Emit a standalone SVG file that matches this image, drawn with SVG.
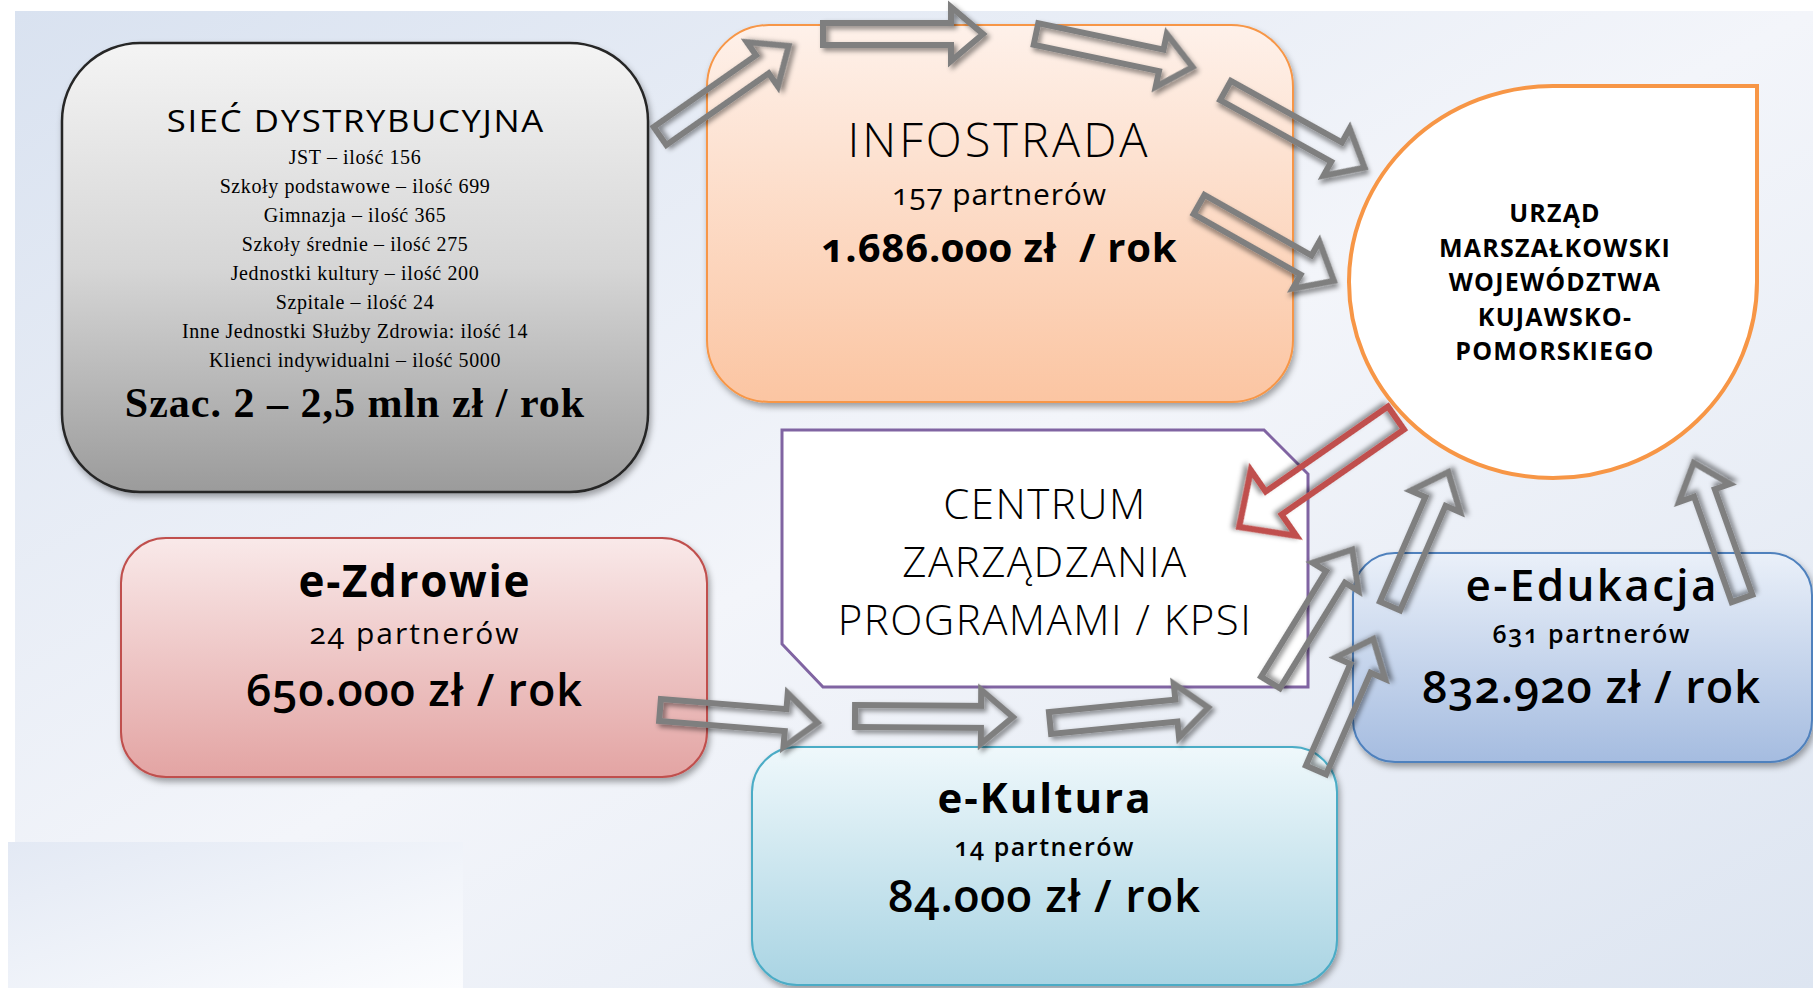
<svg xmlns="http://www.w3.org/2000/svg" width="1813" height="988" viewBox="0 0 1813 988">
<style>
.sans{font-family:"Open Sans","Noto Sans",sans-serif;fill:#000;text-anchor:middle;font-variant-numeric:oldstyle-nums;font-feature-settings:"onum" 1}
.serif{font-family:"Liberation Serif","DejaVu Serif",serif;fill:#000;text-anchor:middle}
.arr{fill:none;stroke:#7f7f7f;stroke-width:6;stroke-linejoin:miter;stroke-miterlimit:10;filter:url(#ash)}
.red{fill:none;stroke:#c0504d;stroke-width:6;stroke-linejoin:miter;stroke-miterlimit:10;filter:url(#ash)}
</style>
<defs>
<linearGradient id="bg" x1="0" y1="0" x2="1" y2="1">
<stop offset="0" stop-color="#d9e2f0"/><stop offset="0.5" stop-color="#f3f5fa"/><stop offset="1" stop-color="#dde5f1"/>
</linearGradient>
<linearGradient id="bg2" x1="0" y1="0" x2="1" y2="1">
<stop offset="0" stop-color="#e3e9f4"/><stop offset="1" stop-color="#fbfcfe"/>
</linearGradient>
<linearGradient id="gGray" x1="0" y1="0" x2="0" y2="1">
<stop offset="0" stop-color="#f4f4f4"/><stop offset="0.5" stop-color="#d6d6d6"/><stop offset="1" stop-color="#9b9b9b"/>
</linearGradient>
<linearGradient id="gOr" x1="0" y1="0" x2="0" y2="1">
<stop offset="0" stop-color="#fef1ea"/><stop offset="1" stop-color="#fbc5a2"/>
</linearGradient>
<linearGradient id="gRed" x1="0" y1="0" x2="0" y2="1">
<stop offset="0" stop-color="#f9e9e9"/><stop offset="1" stop-color="#e3a4a3"/>
</linearGradient>
<linearGradient id="gCy" x1="0" y1="0" x2="0" y2="1">
<stop offset="0" stop-color="#eff8fb"/><stop offset="1" stop-color="#a9d4e3"/>
</linearGradient>
<linearGradient id="gBl" x1="0" y1="0" x2="0" y2="1">
<stop offset="0" stop-color="#eaf0f9"/><stop offset="1" stop-color="#a5bce0"/>
</linearGradient>
<filter id="sh" x="-10%" y="-10%" width="125%" height="125%">
<feDropShadow dx="2" dy="4" stdDeviation="3" flood-color="#000" flood-opacity="0.35"/>
</filter>
<filter id="ash" x="-20%" y="-20%" width="150%" height="150%">
<feDropShadow dx="3" dy="3" stdDeviation="2.5" flood-color="#000" flood-opacity="0.45"/>
</filter>
</defs>

<rect x="0" y="0" width="1813" height="988" fill="#fff"/>
<rect x="15" y="11" width="1798" height="977" fill="url(#bg)"/>
<rect x="0" y="842" width="463" height="146" fill="#fff"/>
<rect x="8" y="842" width="455" height="146" fill="url(#bg2)"/>

<g id="siec">
<rect x="62" y="43" width="586" height="449" rx="78" ry="78" fill="url(#gGray)" stroke="#262626" stroke-width="2.5" filter="url(#sh)"/>
<text class="sans" transform="translate(355,132) scale(1.12,1)" x="0" y="0" font-size="31" textLength="336" lengthAdjust="spacing">SIEĆ DYSTRYBUCYJNA</text>
<g class="serif" font-size="20" letter-spacing="0.6">
<text x="355" y="164">JST – ilość 156</text>
<text x="355" y="193">Szkoły podstawowe – ilość 699</text>
<text x="355" y="222">Gimnazja – ilość 365</text>
<text x="355" y="251">Szkoły średnie – ilość 275</text>
<text x="355" y="280">Jednostki kultury – ilość 200</text>
<text x="355" y="309">Szpitale – ilość 24</text>
<text x="355" y="338">Inne Jednostki Służby Zdrowia: ilość 14</text>
<text x="355" y="367">Klienci indywidualni – ilość 5000</text>
</g>
<text class="serif" x="355" y="417" font-size="42" font-weight="bold" letter-spacing="1">Szac. 2 – 2,5 mln zł / rok</text>
</g>

<g id="infostrada">
<rect x="707" y="25" width="586" height="377" rx="62" ry="62" fill="url(#gOr)" stroke="#f79646" stroke-width="2" filter="url(#sh)"/>
<text class="sans" x="999" y="157" font-size="47" font-weight="300" letter-spacing="3">INFOSTRADA</text>
<text class="sans" x="999" y="205" font-size="30" textLength="214" lengthAdjust="spacing">157 partnerów</text>
<text class="sans" x="999" y="262" font-size="40" font-weight="bold" textLength="355" lengthAdjust="spacing">1.686.000 zł&#160; / rok</text>
</g>

<g id="urzad">
<path d="M1757,86 L1554,86 A204,196 0 1 0 1757,282 Z" fill="#fff" stroke="#f79646" stroke-width="4"/>
<g class="sans" font-size="25" font-weight="bold" letter-spacing="1.2">
<text x="1555" y="222">URZĄD</text>
<text x="1555" y="257">MARSZAŁKOWSKI</text>
<text x="1555" y="291">WOJEWÓDZTWA</text>
<text x="1555" y="326">KUJAWSKO-</text>
<text x="1555" y="360">POMORSKIEGO</text>
</g>
</g>

<g id="centrum">
<path d="M782,430 L1264,430 L1308,474 L1308,687 L823,687 L782,644 Z" fill="#fff" stroke="#8064a2" stroke-width="3"/>
<g class="sans" font-size="42" font-weight="300" letter-spacing="1.5">
<text x="1045" y="519">CENTRUM</text>
<text x="1045" y="577">ZARZĄDZANIA</text>
<text x="1045" y="635">PROGRAMAMI / KPSI</text>
</g>
</g>

<g id="ezdrowie">
<rect x="121" y="538" width="586" height="239" rx="45" ry="45" fill="url(#gRed)" stroke="#c0504d" stroke-width="2" filter="url(#sh)"/>
<text class="sans" x="414" y="597" font-size="44" font-weight="bold" textLength="231" lengthAdjust="spacing">e-Zdrowie</text>
<text class="sans" x="414" y="644" font-size="30" textLength="209" lengthAdjust="spacing">24 partnerów</text>
<text class="sans" x="414" y="706" font-size="45" font-weight="600" textLength="336" lengthAdjust="spacing">650.000 zł / rok</text>
</g>

<g id="ekultura">
<rect x="752" y="747" width="585" height="238" rx="45" ry="45" fill="url(#gCy)" stroke="#4bacc6" stroke-width="2" filter="url(#sh)"/>
<text class="sans" x="1044" y="813" font-size="42" font-weight="bold" textLength="213" lengthAdjust="spacing">e-Kultura</text>
<text class="sans" x="1044" y="856" font-size="25" font-weight="600" textLength="179" lengthAdjust="spacing">14 partnerów</text>
<text class="sans" x="1044" y="912" font-size="45" font-weight="600" textLength="312" lengthAdjust="spacing">84.000 zł / rok</text>
</g>

<g id="eedukacja">
<rect x="1353" y="553" width="459" height="209" rx="42" ry="42" fill="url(#gBl)" stroke="#4f81bd" stroke-width="2" filter="url(#sh)"/>
<text class="sans" x="1591" y="601" font-size="44" font-weight="600" textLength="251" lengthAdjust="spacing">e-Edukacja</text>
<text class="sans" x="1591" y="643" font-size="25" font-weight="600" textLength="197" lengthAdjust="spacing">631 partnerów</text>
<text class="sans" x="1591" y="703" font-size="45" font-weight="600" textLength="338" lengthAdjust="spacing">832.920 zł / rok</text>
</g>

<g id="connectors">
<path class="arr" transform="translate(660,136) rotate(-35)" d="M0,-11 H125 V-27 L157,0 L125,27 V11 H0 Z"/>
<path class="arr" transform="translate(823,34) rotate(0)" d="M0,-11 H128 V-27 L160,0 L128,27 V11 H0 Z"/>
<path class="arr" transform="translate(1036,34) rotate(11.9)" d="M0,-11 H128 V-27 L160,0 L128,27 V11 H0 Z"/>
<path class="arr" transform="translate(1225.5,90.5) rotate(29)" d="M0,-11 H127 V-27 L159,0 L127,27 V11 H0 Z"/>
<path class="arr" transform="translate(1199,204.5) rotate(29.5)" d="M0,-11 H123 V-27 L155,0 L123,27 V11 H0 Z"/>
<path class="red" transform="translate(1396,418) rotate(145.2)" d="M0,-14 H149 V-40 L191,0 L149,40 V14 H0 Z"/>
<path class="arr" transform="translate(660,710) rotate(4.6)" d="M0,-11 H126 V-27 L158,0 L126,27 V11 H0 Z"/>
<path class="arr" transform="translate(855,716) rotate(0.4)" d="M0,-11 H126 V-27 L158,0 L126,27 V11 H0 Z"/>
<path class="arr" transform="translate(1050,723) rotate(-5.6)" d="M0,-11 H127 V-27 L159,0 L127,27 V11 H0 Z"/>
<path class="arr" transform="translate(1270.5,682.5) rotate(-58.4)" d="M0,-11 H124 V-27 L156,0 L124,27 V11 H0 Z"/>
<path class="arr" transform="translate(1316,770) rotate(-66.4)" d="M0,-11 H111 V-27 L143,0 L111,27 V11 H0 Z"/>
<path class="arr" transform="translate(1390,606) rotate(-66.5)" d="M0,-11 H114 V-27 L146,0 L114,27 V11 H0 Z"/>
<path class="arr" transform="translate(1742,598.5) rotate(-109.6)" d="M0,-11 H112 V-27 L144,0 L112,27 V11 H0 Z"/>
</g>
</svg>
